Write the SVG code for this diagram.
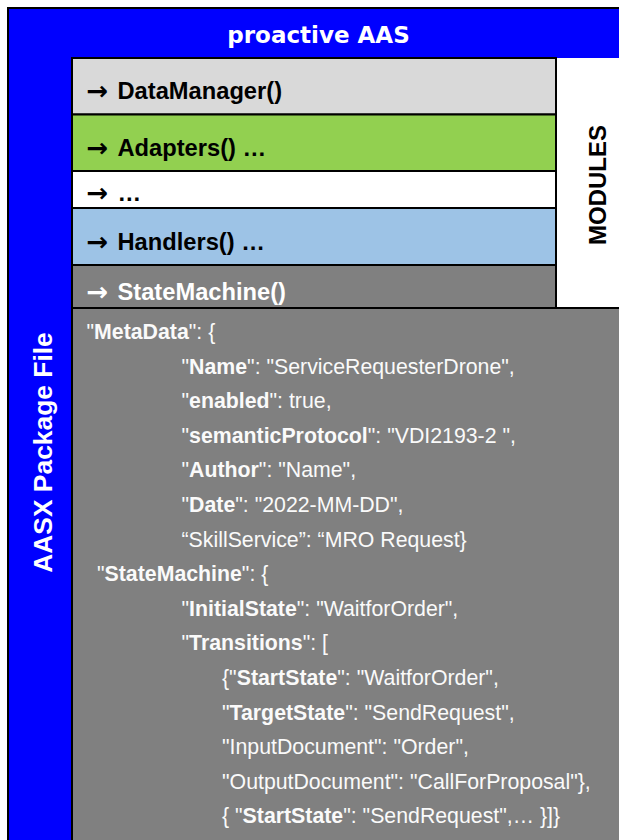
<svg xmlns="http://www.w3.org/2000/svg" width="619" height="840" viewBox="0 0 619 840">
  <style>
    .frame { fill: #0000ff; stroke: #000; stroke-width: 2; }
    .row { stroke: #000; stroke-width: 2; }
    .row-label { font-family: "Liberation Sans", Arial, sans-serif; font-weight: bold; font-size: 23.7px; fill: #000; }
    .row-arrow { font-family: "DejaVu Sans", sans-serif; font-weight: bold; font-size: 26px; fill: #000; }
    .light { fill: #ffffff; }
    .side-label { font-family: "Liberation Sans", Arial, sans-serif; font-weight: bold; text-anchor: middle; }
    .code { font-family: "Liberation Sans", Arial, sans-serif; font-size: 21.3px; fill: #fafafa; }
    .code .k { font-weight: bold; }
  </style>

  <!-- outer package frame -->
  <g id="package">
    <rect class="frame" x="8" y="8" width="640" height="860"/>
    <text class="side-label" font-size="26.4" fill="#ffffff" transform="translate(51.5,452.5) rotate(-90)">AASX Package File</text>
  </g>

  <!-- title band -->
  <g id="title">
    <text x="318.5" y="43" text-anchor="middle" font-family="DejaVu Sans, Verdana, sans-serif" font-weight="bold" font-size="23" fill="#ffffff">proactive AAS</text>
  </g>

  <!-- module column label -->
  <g id="modules-label">
    <rect x="556" y="58" width="70" height="250" fill="#ffffff"/>
    <text class="side-label" font-size="24" fill="#000" transform="translate(606,185) rotate(-90)">MODULES</text>
  </g>

  <!-- module rows -->
  <g id="module-datamanager">
    <rect class="row" x="72" y="58" width="484" height="56.5" fill="#d9d9d9"/>
    <text class="row-arrow" x="86.5" y="99.5">→</text>
    <text class="row-label" x="117.5" y="98.5">DataManager()</text>
  </g>
  <g id="module-adapters">
    <rect class="row" x="72" y="114.5" width="484" height="56.5" fill="#92d050"/>
    <text class="row-arrow" x="86.5" y="156.5">→</text>
    <text class="row-label" x="117.5" y="155.5">Adapters() …</text>
  </g>
  <g id="module-more">
    <rect class="row" x="72" y="171" width="484" height="37" fill="#ffffff"/>
    <text class="row-arrow" x="86.5" y="202">→</text>
    <text class="row-label" x="117.5" y="201">…</text>
  </g>
  <g id="module-handlers">
    <rect class="row" x="72" y="208" width="484" height="57" fill="#9dc3e6"/>
    <text class="row-arrow" x="86.5" y="250.5">→</text>
    <text class="row-label" x="117.5" y="249.5">Handlers() …</text>
  </g>
  <g id="module-statemachine">
    <rect class="row" x="72" y="265" width="484" height="43" fill="#808080"/>
    <text class="row-arrow light" x="86.5" y="300.5">→</text>
    <text class="row-label light" x="117.5" y="299.5">StateMachine()</text>
  </g>

  <!-- state machine definition -->
  <g id="statemachine-json">
    <rect x="72" y="308" width="560" height="545" fill="#808080" stroke="#000" stroke-width="2"/>
    <text class="code" x="86.5" y="339">"<tspan class="k">MetaData</tspan>": {</text>
    <text class="code" x="181.5" y="373.6">"<tspan class="k">Name</tspan>": "ServiceRequesterDrone",</text>
    <text class="code" x="181.5" y="408.2">"<tspan class="k">enabled</tspan>": true,</text>
    <text class="code" x="181.5" y="442.8">"<tspan class="k">semanticProtocol</tspan>": "VDI2193-2 ",</text>
    <text class="code" x="181.5" y="477.4">"<tspan class="k">Author</tspan>": "Name",</text>
    <text class="code" x="181.5" y="512">"<tspan class="k">Date</tspan>": "2022-MM-DD",</text>
    <text class="code" x="181.5" y="546.6">“SkillService”: “MRO Request}</text>
    <text class="code" x="97" y="581.2">"<tspan class="k">StateMachine</tspan>": {</text>
    <text class="code" x="181.5" y="615.8">"<tspan class="k">InitialState</tspan>": "WaitforOrder",</text>
    <text class="code" x="181.5" y="650.4">"<tspan class="k">Transitions</tspan>": [</text>
    <text class="code" x="222" y="685">{"<tspan class="k">StartState</tspan>": "WaitforOrder",</text>
    <text class="code" x="222" y="719.6">"<tspan class="k">TargetState</tspan>": "SendRequest",</text>
    <text class="code" x="222" y="754.2">"InputDocument": "Order",</text>
    <text class="code" x="222" y="788.8">"OutputDocument": "CallForProposal"},</text>
    <text class="code" x="222" y="823.4">{ "<tspan class="k">StartState</tspan>": "SendRequest",… }]}</text>
  </g>
</svg>
